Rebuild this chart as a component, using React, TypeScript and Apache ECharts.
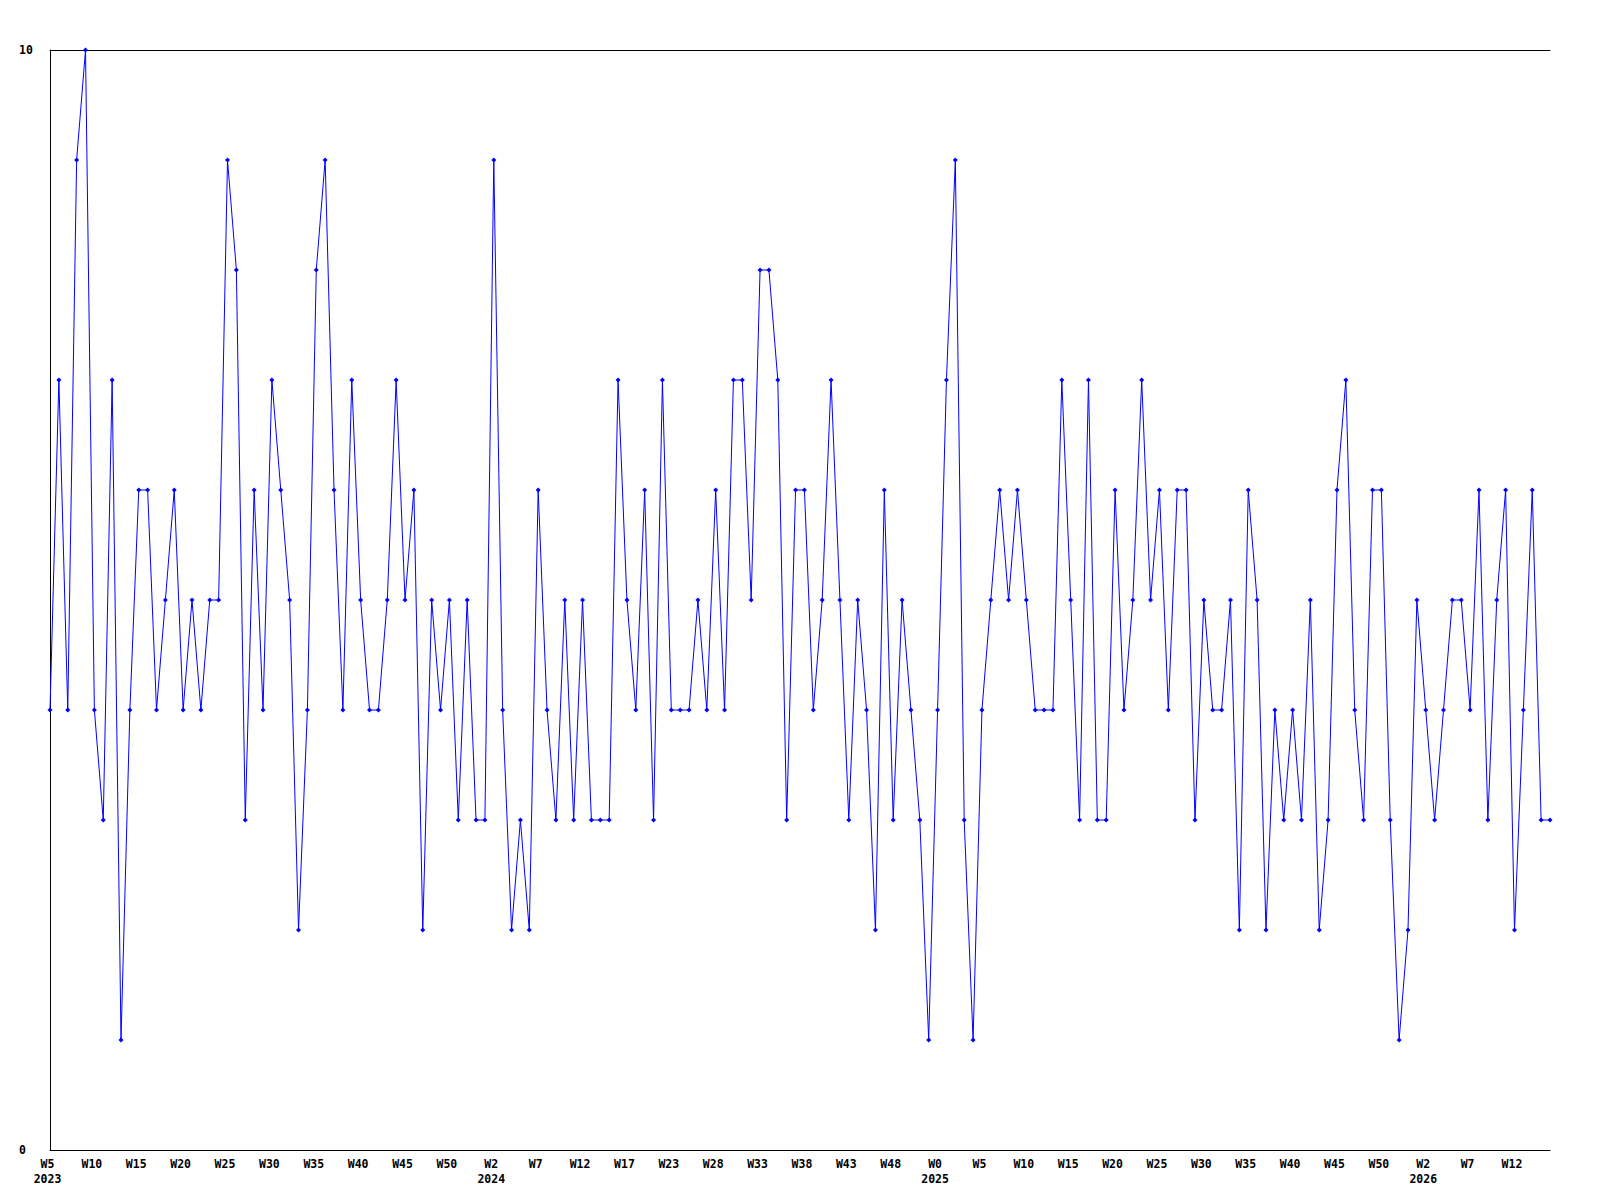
import React, { useEffect, useRef } from "react";
import * as echarts from "echarts";

// Weekly values, 2023 W5 .. 2026 W16 (170 points)
const values: number[] = [
  4, 7, 4, 9, 10, 4, 3, 7, 1, 4, 6, 6, 4, 5, 6, 4, 5, 4, 5, 5, 9, 8, 3, 6, 4, 7, 6, 5, 2,
  4, 8, 9, 6, 4, 7, 5, 4, 4, 5, 7, 5, 6, 2, 5, 4, 5, 3, 5, 3, 3, 9, 4, 2, 3, 2, 6, 4,
  3, 5, 3, 5, 3, 3, 3, 7, 5, 4, 6, 3, 7, 4, 4, 4, 5, 4, 6, 4, 7, 7, 5, 8, 8, 7, 3, 6,
  6, 4, 5, 7, 5, 3, 5, 4, 2, 6, 3, 5, 4, 3, 1, 4, 7, 9, 3, 1, 4, 5, 6, 5, 6, 5, 4, 4,
  4, 7, 5, 3, 7, 3, 3, 6, 4, 5, 7, 5, 6, 4, 6, 6, 3, 5, 4, 4, 5, 2, 6, 5, 2, 4, 3, 4, 3,
  5, 2, 3, 6, 7, 4, 3, 6, 6, 3, 1, 2, 5, 4, 3, 4, 5, 5, 4, 6, 3, 5, 6, 2, 4, 6, 3, 3,
];

// Week tick labels, one every 5 points
const weekTicks: string[] = [
  "W5", "W10", "W15", "W20", "W25", "W30", "W35", "W40", "W45", "W50",
  "W2", "W7", "W12", "W17", "W23", "W28", "W33", "W38", "W43", "W48",
  "W0", "W5", "W10", "W15", "W20", "W25", "W30", "W35", "W40", "W45", "W50",
  "W2", "W7", "W12",
];

// Year labels under the first tick of each year (tick indices)
const yearTickIndex: number[] = [0, 10, 20, 31];
const years: string[] = ["2023", "2024", "2025", "2026"];

const TICK_STEP = 5;

const categories: string[] = values.map((_, i) => String(i));

const font = {
  fontFamily: "DejaVu Sans Mono",
  fontWeight: "bold" as const,
  fontSize: 11.5,
  color: "#000",
};

export default function App() {
  const ref = useRef<HTMLDivElement>(null);
  useEffect(() => {
    if (!ref.current) return;
    const chart = echarts.init(ref.current, null, { renderer: "svg" });
    chart.setOption({
      animation: false,
      backgroundColor: "#fff",
      grid: { left: 50, right: 50, top: 50, bottom: 50, containLabel: false },
      xAxis: [
        {
          type: "category",
          data: categories,
          boundaryGap: false,
          position: "bottom",
          axisLine: { show: true, lineStyle: { color: "#000", width: 1 } },
          axisTick: { show: false },
          splitLine: { show: false },
          axisLabel: {
            ...font,
            interval: TICK_STEP - 1,
            margin: 6,
            lineHeight: 15,
            hideOverlap: false,
            padding: [0, 5, 0, 0],
            formatter: (_v: string, idx: number) => {
              if (idx % TICK_STEP !== 0) return "";
              const t = idx / TICK_STEP;
              const w = weekTicks[t] ?? "";
              const yi = yearTickIndex.indexOf(t);
              return yi >= 0 ? w + "\n" + years[yi] : w;
            },
          },
        },
        {
          type: "category",
          data: categories,
          boundaryGap: false,
          position: "top",
          axisLine: { show: true, lineStyle: { color: "#000", width: 1 } },
          axisTick: { show: false },
          axisLabel: { show: false },
          splitLine: { show: false },
        },
      ],
      yAxis: {
        type: "value",
        min: 0,
        max: 10,
        interval: 10,
        axisLine: { show: true, lineStyle: { color: "#000", width: 1 } },
        axisTick: { show: false },
        splitLine: { show: false },
        axisLabel: { ...font, align: "left", margin: 31 },
      },
      series: [
        {
          type: "line",
          xAxisIndex: 0,
          data: values,
          symbol: "diamond",
          symbolSize: 5,
          showAllSymbol: true,
          lineStyle: { color: "#0000ff", width: 1 },
          itemStyle: { color: "#0000ff" },
        },
      ],
    });
    return () => chart.dispose();
  }, []);
  return (
    <div
      ref={ref}
      style={{ position: "fixed", left: 0, top: 0, width: 1600, height: 1200, background: "#fff" }}
    />
  );
}
